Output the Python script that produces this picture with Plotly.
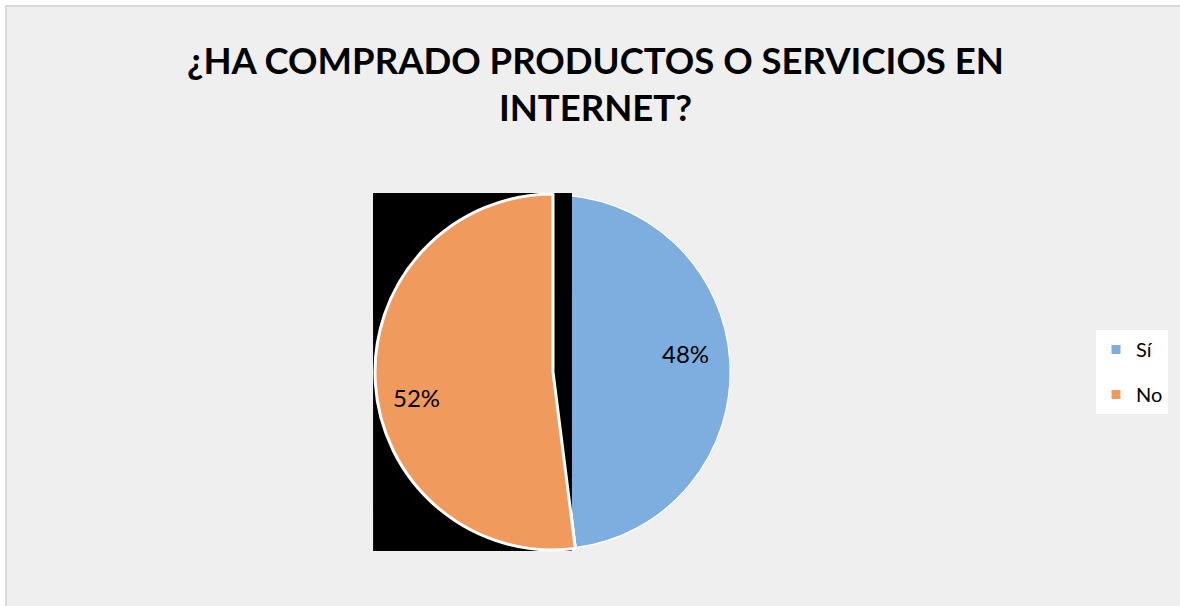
import plotly.graph_objects as go

# ---- data ----
labels = ["Sí", "No"]
values = [48, 52]
title_text = "¿HA COMPRADO PRODUCTOS O SERVICIOS EN<br>INTERNET?"

# ---- style ----
W, H = 1180, 606
blue = "#7EADDF"
orange = "#F09A5E"
font_family = "Lato, Carlito, Calibri, 'Open Sans', sans-serif"

def px_x(p):
    return p / W

def px_y(p):
    return 1 - p / H

pie_domain = dict(x=[px_x(375), px_x(731)], y=[px_y(550), px_y(194)])
rect_domain = dict(x=[px_x(373), px_x(572)], y=[px_y(551), px_y(193)])

total = sum(values)
spans = [v / total * 360 for v in values]
starts = [sum(spans[:i]) for i in range(len(spans))]
centers = [s + w / 2 for s, w in zip(starts, spans)]
pct_text = [f"{v / total:.0%}" for v in values]
label_pos = [(685, 353), (416, 397)]  # label anchor positions (px)

fig = go.Figure()

# Sí slice (lowest layer: polar)
fig.add_trace(go.Barpolar(
    r=[1], theta=[centers[0]], width=[spans[0]], name=labels[0],
    marker=dict(color=blue, line=dict(color="white", width=3)),
    legendgroup="a", showlegend=True, hoverinfo="skip",
))
fig.add_trace(go.Barpolar(
    r=[1], theta=[centers[1]], width=[spans[1]], name=labels[1],
    marker=dict(color=orange, line=dict(color="white", width=3)),
    legendgroup="b", showlegend=True, hoverinfo="skip",
))

# black rectangle (funnelarea layer sits between polar and pie)
fig.add_trace(go.Funnelarea(
    values=[1], labels=[""], baseratio=1,
    aspectratio=(rect_domain["y"][1] - rect_domain["y"][0]) * H /
                ((rect_domain["x"][1] - rect_domain["x"][0]) * W),
    domain=rect_domain, marker=dict(colors=["black"], line=dict(width=0)),
    textinfo="none", showlegend=False, hoverinfo="skip",
))

# No slice on top (pie layer), Sí transparent
fig.add_trace(go.Pie(
    labels=labels, values=values, sort=False, direction="clockwise", rotation=0,
    domain=pie_domain,
    marker=dict(colors=["rgba(0,0,0,0)", orange],
                line=dict(color=["rgba(0,0,0,0)", "white"], width=[0, 3])),
    textinfo="none",
    showlegend=False, hoverinfo="label+percent",
))

annotations = [
    dict(text=t, x=px_x(p[0]), y=px_y(p[1]), xref="paper", yref="paper",
         xanchor="center", yanchor="middle", showarrow=False,
         font=dict(family=font_family, size=24, color="black"))
    for t, p in zip(pct_text, label_pos)
]
annotations.append(dict(
    text=title_text, x=px_x(595), y=px_y(36), xref="paper", yref="paper",
    xanchor="center", yanchor="top", showarrow=False, align="center",
    font=dict(family=font_family, size=36.5, color="black", weight="bold"),
))

fig.update_layout(
    width=W, height=H,
    margin=dict(l=0, r=0, t=0, b=0),
    paper_bgcolor="white",
    polar=dict(
        domain=pie_domain,
        bgcolor="rgba(0,0,0,0)",
        angularaxis=dict(rotation=90, direction="clockwise", showline=False,
                         showgrid=False, showticklabels=False, ticks=""),
        radialaxis=dict(visible=False, range=[0, 1]),
        bargap=0,
    ),
    annotations=annotations,
    legend=dict(x=px_x(1096), y=px_y(330), xanchor="left", yanchor="top",
                bgcolor="white", font=dict(family=font_family, size=20, color="black"),
                tracegroupgap=16, traceorder="grouped", itemwidth=30),
    shapes=[dict(type="rect", xref="paper", yref="paper", layer="below",
                 x0=px_x(6), x1=px_x(1190), y0=px_y(615), y1=px_y(6),
                 fillcolor="#EFEFEF", line=dict(color="#D9D9D9", width=2))],
)

fig.write_html("out.html", config={"displayModeBar": False},
               post_script="document.body.style.margin='0px';document.body.style.overflow='hidden';")
